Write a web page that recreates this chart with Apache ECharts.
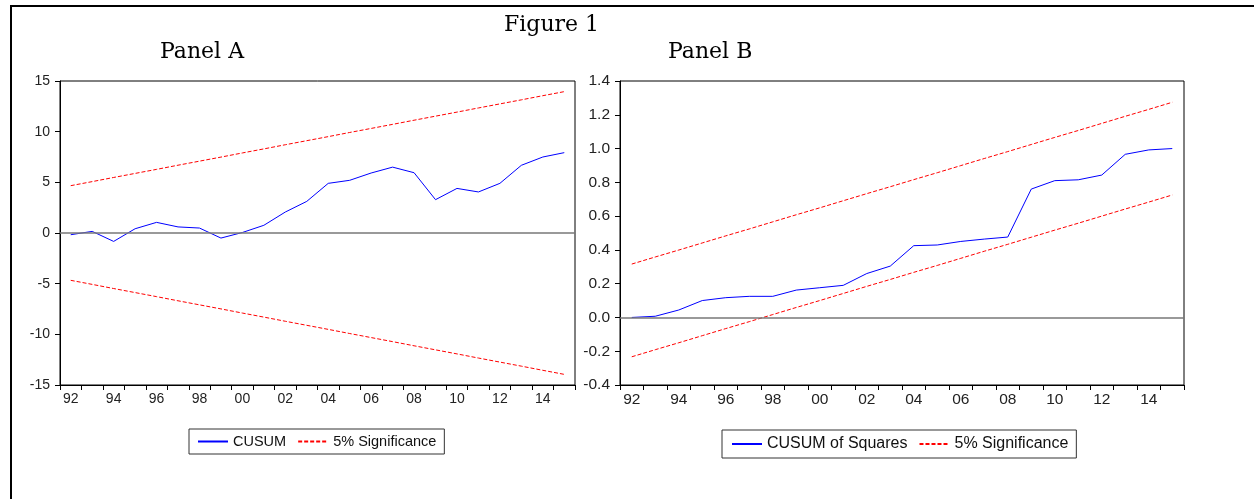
<!DOCTYPE html>
<html>
<head>
<meta charset="utf-8">
<title>Figure 1</title>
<script src="https://cdn.jsdelivr.net/npm/echarts@6/dist/echarts.min.js"></script>
<style>
    html, body {margin: 0; padding: 0; background: #fff;}
    #chart {width: 1254px; height: 499px;}
</style>
</head>
<body>
<div id="chart"></div>
<script>
// 年份 (1992 - 2015)
var years = ['92', '93', '94', '95', '96', '97', '98', '99', '00', '01', '02', '03',
             '04', '05', '06', '07', '08', '09', '10', '11', '12', '13', '14', '15'];

// Panel A: CUSUM
var cusum = [-0.17, 0.16, -0.83, 0.42, 1.05, 0.60, 0.49, -0.50, 0.05, 0.76, 2.07, 3.12,
             4.90, 5.20, 5.92, 6.50, 5.95, 3.29, 4.40, 4.05, 4.90, 6.68, 7.50, 7.93];
var cusumUpper = [4.67, 5.07, 5.48, 5.88, 6.28, 6.69, 7.09, 7.49, 7.90, 8.30, 8.71, 9.11,
                  9.51, 9.92, 10.32, 10.72, 11.13, 11.53, 11.93, 12.34, 12.74, 13.14, 13.55, 13.95];
var cusumLower = [-4.67, -5.07, -5.48, -5.88, -6.28, -6.69, -7.09, -7.49, -7.90, -8.30, -8.71, -9.11,
                  -9.51, -9.92, -10.32, -10.72, -11.13, -11.53, -11.93, -12.34, -12.74, -13.14, -13.55, -13.95];

// Panel B: CUSUM of Squares
var cusumSq = [0.000, 0.007, 0.044, 0.100, 0.117, 0.125, 0.125, 0.162, 0.176, 0.190, 0.260, 0.304,
               0.425, 0.429, 0.450, 0.464, 0.476, 0.760, 0.810, 0.815, 0.843, 0.966, 0.992, 1.000];
var sqUpper = [0.316, 0.358, 0.399, 0.441, 0.483, 0.524, 0.566, 0.608, 0.649, 0.691, 0.733, 0.774,
               0.816, 0.857, 0.899, 0.941, 0.982, 1.024, 1.066, 1.107, 1.149, 1.191, 1.232, 1.274];
var sqLower = [-0.233, -0.191, -0.150, -0.108, -0.066, -0.025, 0.017, 0.059, 0.100, 0.142, 0.184, 0.225,
               0.267, 0.308, 0.350, 0.392, 0.433, 0.475, 0.517, 0.558, 0.600, 0.642, 0.683, 0.725];

var sans = 'Liberation Sans, Arial, sans-serif';
var serif = 'DejaVu Serif, serif';

function xAxisOf(idx, size) {
    return {
        type: 'category',
        gridIndex: idx,
        data: years,
        boundaryGap: true,
        axisLine: {onZero: false, lineStyle: {color: '#000', width: 1}},
        axisTick: {show: true, interval: 0, length: 5, lineStyle: {color: '#000'}},
        axisLabel: {interval: 1, margin: 7, color: '#222', fontFamily: sans, fontSize: size}
    };
}

function yAxisOf(idx, min, max, step, size, digits) {
    return {
        type: 'value',
        gridIndex: idx,
        min: min,
        max: max,
        interval: step,
        axisLine: {show: true, onZero: false, lineStyle: {color: '#000', width: 1}},
        axisTick: {show: true, length: 5, lineStyle: {color: '#000'}},
        splitLine: {show: false},
        axisLabel: {
            margin: 10, color: '#222', fontFamily: sans, fontSize: size,
            formatter: function(v) { return v.toFixed(digits); }
        }
    };
}

function mainLine(name, idx, data) {
    return {
        name: name, type: 'line', xAxisIndex: idx, yAxisIndex: idx,
        data: data, symbol: 'none', silent: true, z: 3,
        lineStyle: {color: '#0000FF', width: 1},
        itemStyle: {color: '#0000FF'},
        markLine: {
            silent: true, symbol: 'none',
            label: {show: false},
            lineStyle: {color: '#777', type: 'solid', width: 1.5},
            data: [{yAxis: 0}]
        }
    };
}

function bandLine(idx, data) {
    return {
        name: '5% Significance', type: 'line', xAxisIndex: idx, yAxisIndex: idx,
        data: data, symbol: 'none', silent: true, z: 2,
        lineStyle: {color: '#FF0000', width: 1, type: [4, 2]},
        itemStyle: {color: '#FF0000'}
    };
}

function legendOf(names, left, top, size, pad) {
    return {
        data: names,
        left: left,
        top: top,
        orient: 'horizontal',
        selectedMode: false,
        itemWidth: 30,
        itemHeight: 12,
        itemGap: 11,
        padding: pad,
        borderColor: '#333',
        borderWidth: 1,
        backgroundColor: '#fff',
        // 只显示线，不显示圆点
        itemStyle: {opacity: 0, borderWidth: 0},
        textStyle: {fontFamily: sans, fontSize: size, color: '#111'}
    };
}

var myChart = echarts.init(document.getElementById('chart'), null, {renderer: 'canvas'});

var option = {
    backgroundColor: '#fff',
    animation: false,
    title: [
        {text: 'Figure 1', left: 504, top: 14, padding: 0,
         textStyle: {fontFamily: serif, fontSize: 22, fontWeight: 'normal', color: '#000'}},
        {text: 'Panel A', left: 160, top: 41, padding: 0,
         textStyle: {fontFamily: serif, fontSize: 22, fontWeight: 'normal', color: '#000'}},
        {text: 'Panel B', left: 668, top: 41, padding: 0,
         textStyle: {fontFamily: serif, fontSize: 22, fontWeight: 'normal', color: '#000'}}
    ],
    grid: [
        {left: 60, top: 81, width: 515, height: 304, show: true, borderColor: '#000', borderWidth: 1},
        {left: 620, top: 81, width: 564, height: 304, show: true, borderColor: '#000', borderWidth: 1}
    ],
    xAxis: [xAxisOf(0, 14), xAxisOf(1, 15.5)],
    yAxis: [yAxisOf(0, -15, 15, 5, 14, 0), yAxisOf(1, -0.4, 1.4, 0.2, 15.5, 1)],
    legend: [
        legendOf(['CUSUM', '5% Significance'], 189, 429, 14.5, [5, 8, 5, 8]),
        legendOf(['CUSUM of Squares', '5% Significance'], 722, 430, 16, [6, 8, 6, 9])
    ],
    // 外框
    graphic: [
        {type: 'line', shape: {x1: 10, y1: 6, x2: 1254, y2: 6}, style: {stroke: '#000', lineWidth: 2}, silent: true},
        {type: 'line', shape: {x1: 11, y1: 5, x2: 11, y2: 499}, style: {stroke: '#000', lineWidth: 2}, silent: true}
    ],
    series: [
        mainLine('CUSUM', 0, cusum),
        bandLine(0, cusumUpper),
        bandLine(0, cusumLower),
        mainLine('CUSUM of Squares', 1, cusumSq),
        bandLine(1, sqUpper),
        bandLine(1, sqLower)
    ]
};
myChart.setOption(option);
</script>
</body>
</html>
